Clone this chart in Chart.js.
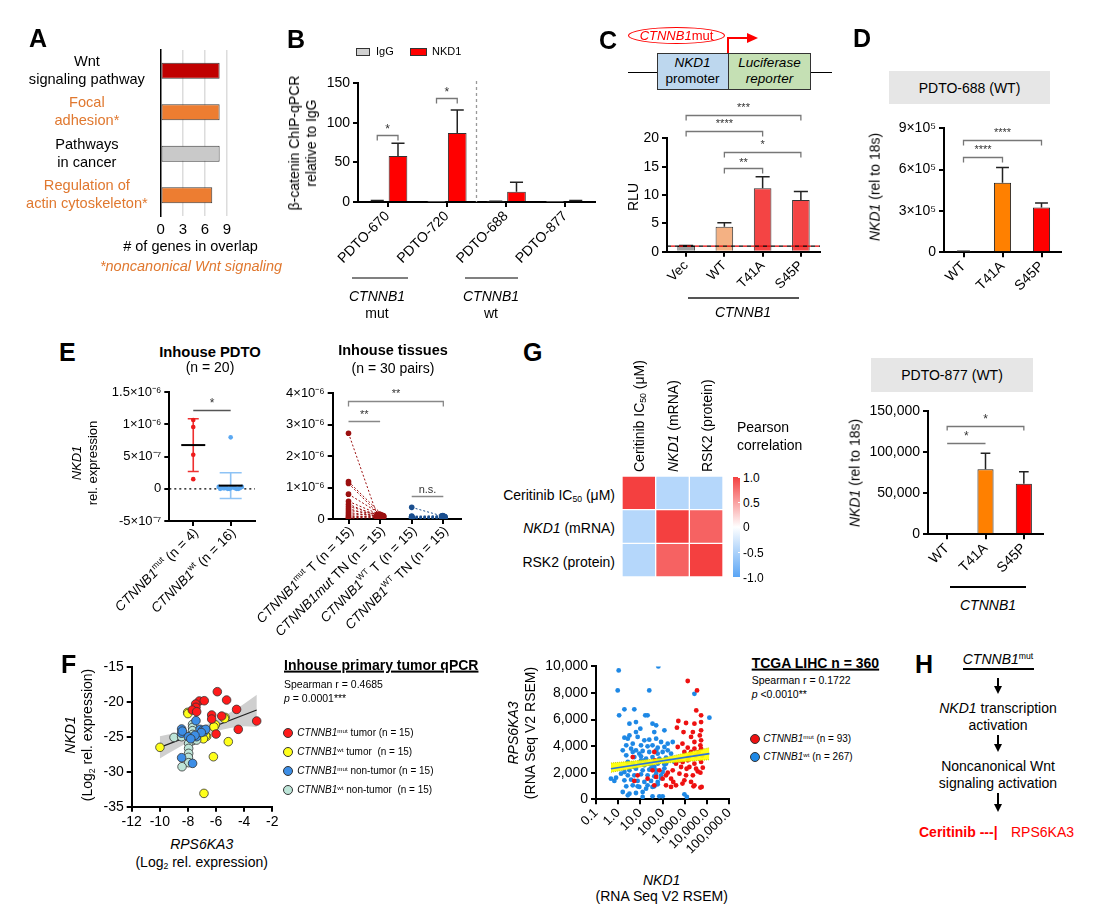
<!DOCTYPE html>
<html>
<head>
<meta charset="utf-8">
<script src="https://cdn.jsdelivr.net/npm/chart.js@4.4.1/dist/chart.umd.min.js"></script>
<style>
html, body { margin: 0; background: #fff; }
#fig { position: relative; width: 1113px; height: 914px; overflow: hidden; font-family: "Liberation Sans", Arial, sans-serif; color: #000; }
.t { position: absolute; white-space: nowrap; line-height: 1.2; text-align: center; }
.t sup { font-size: 0.62em; vertical-align: 0.55em; line-height: 0; }
.t sub { font-size: 0.62em; vertical-align: -0.3em; line-height: 0; }
</style>
</head>
<body>
<div id="fig"></div>
<script>
// ---- A: pathways
const aPathways = [['Wnt', 'signaling pathway'], ['Focal', 'adhesion*'], ['Pathways', 'in cancer'], ['Regulation of', 'actin cytoskeleton*']];
const aGenes = [8, 8, 8, 7];
const aTicks = [0, 3, 6, 9];

// ---- B: ChIP-qPCR
const bSamples = ['PDTO-670', 'PDTO-720', 'PDTO-688', 'PDTO-877'];
const bIgG = [1.2, 0.3, 0.6, 0.2];
const bIgGSd = [0.6, 0, 0.3, 0];
const bNKD1 = [58, 87, 13, 1.2];
const bNKD1Sd = [16, 29, 12, 0.6];
const bTicks = [0, 50, 100, 150];

// ---- C: luciferase
const cGroups = ['Vec', 'WT', 'T41A', 'S45P'];
const cRLU = [1.0, 4.4, 11.2, 9.1];
const cSd = [0.1, 0.7, 2.0, 1.5];
const cTicks = [0, 5, 10, 15, 20];
const cBase = 1;

// ---- D: PDTO-688 and PDTO-877
const dGroups = ['WT', 'T41A', 'S45P'];
const d688 = [5000, 505000, 325000];
const d688Sd = [3000, 110000, 32000];
const d688Ticks = [0, 300000, 600000, 900000];
const d688TickLabels = ['0', '3×10⁵', '6×10⁵', '9×10⁵'];
const d877 = [0, 79000, 61500];
const d877Sd = [0, 19500, 14500];
const d877Ticks = [0, 50000, 100000, 150000];

// ---- E (values in units of 1e-6)
const e1Mut = [1.07, 0.96, 0.53, 0.15];
const e1MutX = [0, 0, 0, 0];
const e1Wt = [0.80, 0.03, 0.02, 0.01, 0.0, 0.01, 0.02, 0.0, 0.01, 0.03, 0.0, 0.01, 0.02, 0.0, 0.01, 0.0];
const e1WtX = [1.0, 0.68, 0.76, 0.84, 0.92, 1.0, 1.08, 1.16, 1.24, 1.3, 0.72, 0.8, 0.88, 0.96, 1.12, 1.2];
const e1Mean = [0.68, 0.05];
const e1Sd = [0.41, 0.20];
const e1Ticks = [-0.5, 0, 0.5, 1, 1.5];
const e1TickLabels = ['-5×10⁻⁷', '0', '5×10⁻⁷', '1×10⁻⁶', '1.5×10⁻⁶'];
const e1Groups = ['_CTNNB1_^mut^ (n = 4)', '_CTNNB1_^wt^ (n = 16)'];

const e2MutT = [2.73, 1.19, 1.13, 0.79, 0.56, 0.47, 0.40, 0.33, 0.27, 0.21, 0.16, 0.11, 0.07, 0.04, 0.02];
const e2MutTN = [0.14, 0.12, 0.16, 0.10, 0.13, 0.09, 0.11, 0.08, 0.15, 0.06, 0.12, 0.05, 0.10, 0.07, 0.04];
const e2WtT = [0.37, 0.09, 0.08, 0.07, 0.06, 0.06, 0.05, 0.05, 0.04, 0.04, 0.03, 0.03, 0.02, 0.02, 0.01];
const e2WtTN = [0.10, 0.08, 0.11, 0.07, 0.09, 0.06, 0.08, 0.05, 0.07, 0.04, 0.06, 0.03, 0.05, 0.02, 0.04];
const e2Jitter = [-0.1, 0.08, -0.04, 0.11, 0.02, -0.08, 0.06, -0.12, 0.0, 0.1, -0.06, 0.04, -0.02, 0.12, -0.1];
const e2Ticks = [0, 1, 2, 3, 4];
const e2TickLabels = ['0', '1×10⁻⁶', '2×10⁻⁶', '3×10⁻⁶', '4×10⁻⁶'];
const e2Groups = ['_CTNNB1_^mut^ T (n = 15)', '_CTNNB1mut_ TN (n = 15)', '_CTNNB1_^WT^ T (n = 15)', '_CTNNB1_^WT^ TN (n = 15)'];

// ---- G: Pearson correlation
const gLabels = ['Ceritinib IC50 (μM)', 'NKD1 (mRNA)', 'RSK2 (protein)'];
const gCorr = [[1, -0.45, -0.45], [-0.45, 1, 0.82], [-0.45, 0.82, 1]];

// ---- F: inhouse qPCR (log2 RPS6KA3, log2 NKD1)
const fMutTumor = [[-5.91, -18.57], [-5.25, -19.76], [-7.19, -19.9], [-6.84, -19.86], [-7.45, -20.33], [-7.43, -20.8], [-7.69, -21.19], [-7.38, -21.43], [-6.31, -21.9], [-6.31, -22.48], [-5.6, -22.05], [-4.54, -21.1], [-3.11, -22.76], [-4.42, -23.95], [-6.0, -24.62]];
const fWtTumor = [[-8.02, -21.52], [-9.99, -26.52], [-5.36, -22.24], [-6.12, -23.48], [-6.86, -25.14], [-6.67, -24.95], [-5.13, -25.71], [-6.19, -27.86], [-6.86, -33.1], [-6.05, -23.3], [-6.75, -24.85], [-5.4, -22.4], [-8.0, -21.7], [-6.9, -25.3], [-6.15, -23.6]];
const fMutNormal = [[-7.43, -22.71], [-8.45, -23.9], [-8.45, -24.5], [-7.97, -25.0], [-7.14, -23.95], [-6.95, -24.1], [-6.86, -24.3], [-6.74, -23.95], [-8.45, -28.0], [-7.67, -28.81], [-7.38, -25.0], [-8.4, -24.2], [-7.05, -24.4], [-7.5, -24.8], [-7.8, -25.3]];
const fWtNormal = [[-7.67, -23.24], [-7.67, -23.67], [-7.67, -24.14], [-7.67, -24.67], [-7.67, -25.14], [-7.67, -25.57], [-7.95, -25.95], [-7.95, -26.67], [-7.95, -27.38], [-7.97, -27.95], [-7.95, -28.71], [-8.42, -29.29], [-8.99, -25.1], [-8.45, -25.0], [-7.38, -25.48]];
const fFitX = [-9.99, -3.11];
const fFitY = [-26.52, -21.19];
const fBandX = [-10, -9, -8, -7, -6, -5, -4, -3.1];
const fBandHi = [-24.93, -24.55, -24.13, -23.5, -22.63, -21.56, -20.28, -19.0];
const fBandLo = [-28.13, -26.95, -25.83, -24.9, -24.23, -23.76, -23.5, -23.6];

// ---- F: TCGA LIHC (NKD1 RSEM, RPS6KA3 RSEM)
const tcgaWt = [[1.05, 9700], [64, 10000], [0.95, 8190], [25, 8190], [2690, 7940], [12700, 6140], [1.1, 6315], [1.9, 6770], [5.3, 6770], [16.5, 6315], [21, 6315], [3.2, 5690], [6.3, 5810], [35, 5690], [51, 5565], [120, 5190], [9.9, 5315], [3.2, 4810], [6.3, 5060], [42, 5060], [1.9, 4640], [2.7, 4560], [7.5, 4690], [15, 4440], [25, 4490], [51, 4560], [85, 4310], [169, 4185], [284, 4310], [2.3, 4060], [4.5, 4185], [10.6, 4060], [21, 3985], [35, 4060], [60, 3885], [120, 3935], [1.6, 3685], [3.8, 3810], [6.3, 3685], [12.6, 3635], [25, 3560], [51, 3685], [100, 3560], [2.3, 3310], [5.3, 3180], [10.6, 3230], [18, 3060], [35, 3180], [71, 3060], [142, 3130], [2.7, 2810], [4.5, 2680], [8.9, 2730], [15, 2555], [30, 2630], [60, 2680], [120, 2630], [6.3, 2305], [12.6, 2180], [25, 2230], [51, 2180], [100, 2055], [1.34, 1930], [2.7, 1805], [5.3, 1805], [10.6, 1880], [21, 1805], [42, 1730], [85, 1805], [0.47, 1555], [0.8, 1630], [0.67, 1380], [1.9, 1430], [3.8, 1480], [7.5, 1380], [15, 1305], [30, 1380], [60, 1305], [2.3, 980], [4.5, 1055], [8.9, 930], [18, 800], [35, 930], [1.6, 550], [3.2, 425], [6.3, 475], [12.6, 550], [2.7, 300], [12.6, 175], [35, 225], [71, 225], [100, 225], [953, 375], [1230, 175], [338, 2810], [10.6, 2930], [18, 2680], [30, 2330], [51, 1930], [85, 1580], [21, 1055], [42, 980], [60, 1130], [7.5, 980], [120, 2330], [142, 2680], [85, 2930], [60, 3430], [42, 2430], [25, 2680], [15, 2930], [5.3, 2430], [3.2, 2180], [1.9, 2055], [8.9, 3430], [4.5, 3560], [169, 3685], [239, 3430], [200, 2930]];
const tcgaMut = [[1346, 8900], [3530, 8190], [3260, 6690], [5370, 6315], [5370, 5810], [508, 5890], [1130, 5740], [440, 5390], [2690, 5690], [5370, 5190], [2290, 5060], [870, 5060], [4700, 4810], [1900, 4690], [5370, 4440], [2690, 4310], [780, 4185], [5000, 4060], [477, 3935], [1346, 3885], [2690, 3810], [5370, 3810], [1900, 3560], [950, 3560], [42, 3560], [4.5, 3180], [45, 2930], [570, 2930], [1346, 2930], [2690, 2680], [5370, 2810], [400, 2680], [675, 2430], [1600, 2430], [3200, 2305], [6400, 2380], [35, 2180], [71, 2180], [142, 1805], [284, 2180], [570, 1930], [1130, 1805], [2290, 1805], [7.5, 1805], [21, 1555], [51, 1680], [100, 1555], [239, 1555], [950, 1430], [1900, 1305], [5.3, 1380], [42, 1055], [142, 1055], [400, 1055], [780, 1180], [2690, 1055], [239, 930], [2450, 980], [5700, 930], [5000, 880], [3000, 3300], [4200, 3550], [6000, 3300], [1500, 3200], [800, 2800], [3800, 2100], [5000, 2000], [170, 2000], [300, 1300], [1200, 2300]];
const tcgaFitX = [0.47, 12700];
const tcgaFitY = [2305, 3435];
const tcgaBandX = [0.47, 85, 12700];
const tcgaBandHi = [2730, 3070, 3885];
const tcgaBandLo = [2030, 2700, 2980];
const tcgaXTicks = [0.1, 1, 10, 100, 1000, 10000, 100000];
const tcgaYTicks = [0, 2000, 4000, 6000, 8000, 10000];

// ---------------------------------------------------------------
const FF = '"Liberation Sans", Arial, sans-serif';
const ORANGE = '#E0782F';
const fig = document.getElementById('fig');
Chart.defaults.font.family = FF;
Chart.defaults.color = '#000';
Chart.defaults.animation = false;
Chart.defaults.events = [];
Chart.defaults.plugins.legend.display = false;
Chart.defaults.plugins.tooltip.enabled = false;
Chart.defaults.maintainAspectRatio = false;

const pts = a => a.map(([x, y]) => ({ x, y }));
const zip = (xs, ys) => xs.map((x, i) => ({ x, y: ys[i] }));
const fmt = v => v.toLocaleString('en-US');

function place(box, area, cfg) {
    const [L, T, W, H] = box;
    const wrap = document.createElement('div');
    wrap.style.cssText = `position:absolute;left:${L}px;top:${T}px;width:${W}px;height:${H}px`;
    const cv = document.createElement('canvas');
    wrap.appendChild(cv);
    fig.appendChild(wrap);
    cfg.options.layout = { padding: { left: 0, top: area.t - T, right: L + W - area.r, bottom: 0 } };
    cfg.options.scales.x.afterFit = s => { s.height = T + H - area.b; };
    cfg.options.scales.y.afterFit = s => { s.width = area.l - L; };
    return new Chart(cv, cfg);
}

function yAxis(min, max, ticks, cb, size = 14) {
    return {
        min, max,
        afterBuildTicks: s => { s.ticks = ticks.map(v => ({ value: v })); },
        border: { color: '#000', width: 2 },
        grid: { drawOnChartArea: false, color: '#000', lineWidth: 2, tickLength: 5 },
        ticks: { font: { size }, padding: 3, callback: cb }
    };
}

function xCat(size) {
    return {
        border: { color: '#000', width: 2 },
        grid: { drawOnChartArea: false, offset: false, color: '#000', lineWidth: 2, tickLength: 5 },
        ticks: { font: { size }, minRotation: 45, maxRotation: 45, autoSkip: false, padding: 1 }
    };
}

function xLin(min, max, ticks) {
    return {
        type: 'linear', min, max,
        afterBuildTicks: s => { s.ticks = ticks.map(v => ({ value: v })); },
        border: { color: '#000', width: 2 },
        grid: { drawOnChartArea: false, color: '#000', lineWidth: 2, tickLength: 5 },
        ticks: { callback: () => '' }
    };
}

function errPlugin(cap, color = '#222') {
    return {
        id: 'err',
        afterDatasetsDraw(chart) {
            const ctx = chart.ctx, ys = chart.scales.y;
            chart.data.datasets.forEach((ds, di) => {
                if (!ds.sd) return;
                chart.getDatasetMeta(di).data.forEach((el, i) => {
                    const sd = ds.sd[i];
                    if (!sd) return;
                    const top = ys.getPixelForValue(ds.data[i] + sd);
                    const w = el.width * cap / 2;
                    ctx.save();
                    ctx.strokeStyle = color;
                    ctx.lineWidth = 1.5;
                    ctx.beginPath();
                    ctx.moveTo(el.x, el.y);
                    ctx.lineTo(el.x, top);
                    ctx.moveTo(el.x - w, top);
                    ctx.lineTo(el.x + w, top);
                    ctx.stroke();
                    ctx.restore();
                });
            });
        }
    };
}

function bracketPlugin(items, color = '#777') {
    return {
        id: 'brackets',
        afterDatasetsDraw(chart) {
            const ctx = chart.ctx, xs = chart.scales.x, ys = chart.scales.y;
            ctx.save();
            ctx.strokeStyle = color;
            ctx.lineWidth = 1.3;
            ctx.fillStyle = '#333';
            ctx.textAlign = 'center';
            ctx.textBaseline = 'middle';
            items.forEach(b => {
                let x1, x2;
                if (b.bar !== undefined) {
                    x1 = chart.getDatasetMeta(0).data[b.bar].x;
                    x2 = chart.getDatasetMeta(1).data[b.bar].x;
                } else {
                    x1 = xs.getPixelForValue(b.x1);
                    x2 = xs.getPixelForValue(b.x2);
                }
                const y = Math.round(ys.getPixelForValue(b.y)) + 0.5;
                const drop = b.drop || 0;
                ctx.beginPath();
                ctx.moveTo(x1, y + drop);
                ctx.lineTo(x1, y);
                ctx.lineTo(x2, y);
                ctx.lineTo(x2, y + drop);
                ctx.stroke();
                ctx.font = `${b.size || 12}px ${FF}`;
                ctx.fillText(b.label, (x1 + x2) / 2, y - (b.gap || 6));
            });
            ctx.restore();
        }
    };
}

function drawRich(ctx, str, x, y, size, angle) {
    const segs = str.split(/(_[^_]+_|\^[^^]+\^)/).filter(s => s).map(p => {
        const it = p[0] === '_', sup = p[0] === '^';
        const t = (it || sup) ? p.slice(1, -1) : p;
        const font = `${it ? 'italic ' : ''}${sup ? size * 0.62 : size}px ${FF}`;
        ctx.font = font;
        return { t, font, w: ctx.measureText(t).width, dy: sup ? -size * 0.32 : 0 };
    });
    const total = segs.reduce((a, s) => a + s.w, 0);
    ctx.save();
    ctx.translate(x, y);
    ctx.rotate(angle);
    ctx.textBaseline = 'middle';
    ctx.textAlign = 'left';
    ctx.fillStyle = '#000';
    let cx = -total;
    segs.forEach(s => { ctx.font = s.font; ctx.fillText(s.t, cx, s.dy); cx += s.w; });
    ctx.restore();
}

function richXPlugin(labels, size) {
    return {
        id: 'richx',
        afterDraw(chart) {
            const xs = chart.scales.x;
            xs.ticks.forEach((t, i) => {
                drawRich(chart.ctx, labels[i], xs.getPixelForValue(t.value) + 3, xs.top + 10, size, -Math.PI / 4);
            });
        }
    };
}

// ---------------- A
const aFill = ['#C00000', '#ED7D31', '#C9C9C9', '#ED7D31'];
const aLabelColor = ['#000', ORANGE, '#000', ORANGE];
place([20, 5, 225, 235], { l: 160.7, t: 50, r: 227, b: 216 }, {
    type: 'bar',
    data: {
        labels: aPathways,
        datasets: [{ data: aGenes, backgroundColor: aFill, borderColor: '#3a3a3a', borderWidth: 1, borderSkipped: false, barPercentage: 0.39, categoryPercentage: 1 }]
    },
    options: {
        indexAxis: 'y',
        scales: {
            x: {
                min: 0, max: 9,
                afterBuildTicks: s => { s.ticks = aTicks.map(v => ({ value: v })); },
                border: { display: false },
                grid: { color: c => (c.tick && c.tick.value === 0) ? 'rgba(0,0,0,0)' : '#dcdcdc', lineWidth: 1.5, drawTicks: false },
                ticks: { font: { size: 15 }, padding: 5 }
            },
            y: {
                border: { color: '#000', width: 1.5 },
                grid: { display: false },
                ticks: { font: { size: 14.6, lineHeight: 1.23 }, color: c => aLabelColor[c.index], crossAlign: 'center', padding: 5 }
            }
        }
    }
});

// ---------------- B
const sepPlugin = {
    id: 'sep',
    afterDatasetsDraw(chart) {
        const xs = chart.scales.x, ctx = chart.ctx;
        const x = (xs.getPixelForValue(1) + xs.getPixelForValue(2)) / 2;
        ctx.save();
        ctx.strokeStyle = '#999';
        ctx.lineWidth = 1.3;
        ctx.setLineDash([3, 3]);
        ctx.beginPath();
        ctx.moveTo(x, chart.chartArea.top - 2);
        ctx.lineTo(x, chart.chartArea.bottom);
        ctx.stroke();
        ctx.restore();
    }
};
place([285, 60, 330, 240], { l: 358, t: 83, r: 595, b: 202 }, {
    type: 'bar',
    data: {
        labels: bSamples,
        datasets: [
            { data: bIgG, sd: bIgGSd, backgroundColor: '#D0D0D0', borderColor: '#333', borderWidth: 1, barPercentage: 0.9, categoryPercentage: 0.7 },
            { data: bNKD1, sd: bNKD1Sd, backgroundColor: '#FF0000', borderColor: '#333', borderWidth: 1, barPercentage: 0.9, categoryPercentage: 0.7 }
        ]
    },
    options: { scales: { x: xCat(14), y: yAxis(0, 150, bTicks, v => v) } },
    plugins: [errPlugin(0.7), sepPlugin, bracketPlugin([
        { bar: 0, y: 84.5, drop: 5, label: '*', gap: 6 },
        { bar: 1, y: 131, drop: 5, label: '*', gap: 6 }
    ])]
});

// ---------------- C
const baseLine = {
    id: 'base',
    afterDatasetsDraw(chart) {
        const ctx = chart.ctx, a = chart.chartArea;
        const y = chart.scales.y.getPixelForValue(cBase);
        ctx.save();
        ctx.lineWidth = 1.3;
        ctx.setLineDash([4, 4]);
        ctx.strokeStyle = '#000';
        ctx.beginPath(); ctx.moveTo(a.left, y); ctx.lineTo(a.right, y); ctx.stroke();
        ctx.lineDashOffset = 4;
        ctx.strokeStyle = '#E00000';
        ctx.beginPath(); ctx.moveTo(a.left, y); ctx.lineTo(a.right, y); ctx.stroke();
        ctx.restore();
    }
};
place([615, 95, 225, 215], { l: 667, t: 138.3, r: 820, b: 251.7 }, {
    type: 'bar',
    data: {
        labels: cGroups,
        datasets: [{ data: cRLU, sd: cSd, backgroundColor: ['#A0A0A0', '#F4B183', '#F44444', '#F44444'], borderColor: '#333', borderWidth: 1, barPercentage: 0.46, categoryPercentage: 1 }]
    },
    options: { scales: { x: xCat(13.5), y: yAxis(0, 20, cTicks, v => v) } },
    plugins: [errPlugin(0.8), baseLine, bracketPlugin([
        { x1: 0, x2: 3, y: 24.1, drop: 5, label: '***', size: 11, gap: 8 },
        { x1: 0, x2: 2, y: 21.2, drop: 5, label: '****', size: 11, gap: 8 },
        { x1: 1, x2: 3, y: 17.5, drop: 5, label: '*', size: 11, gap: 8 },
        { x1: 1, x2: 2, y: 14.7, drop: 5, label: '**', size: 11, gap: 6 }
    ])]
});

// ---------------- D (PDTO-688)
place([880, 110, 200, 195], { l: 944, t: 128.3, r: 1061, b: 252.3 }, {
    type: 'bar',
    data: {
        labels: dGroups,
        datasets: [{ data: d688, sd: d688Sd, backgroundColor: ['#888', '#FF8000', '#FF0000'], borderColor: '#222', borderWidth: 1, barPercentage: 0.44, categoryPercentage: 1 }]
    },
    options: { scales: { x: xCat(14), y: yAxis(0, 900000, d688Ticks, (v, i) => d688TickLabels[i]) } },
    plugins: [errPlugin(0.75), bracketPlugin([
        { x1: 0, x2: 2, y: 815000, drop: 5, label: '****', size: 11, gap: 8 },
        { x1: 0, x2: 1, y: 694000, drop: 5, label: '****', size: 11, gap: 8 }
    ])]
});

// ---------------- D (PDTO-877)
place([850, 395, 215, 190], { l: 928, t: 411, r: 1043, b: 534.3 }, {
    type: 'bar',
    data: {
        labels: dGroups,
        datasets: [{ data: d877, sd: d877Sd, backgroundColor: ['#888', '#FF8000', '#FF0000'], borderColor: '#222', borderWidth: 1, barPercentage: 0.42, categoryPercentage: 1 }]
    },
    options: { scales: { x: xCat(14), y: yAxis(0, 150000, d877Ticks, v => fmt(v)) } },
    plugins: [errPlugin(0.6), bracketPlugin([
        { x1: 0, x2: 2, y: 131750, drop: 4, label: '*', size: 12, gap: 7 },
        { x1: 0, x2: 1, y: 110700, drop: 0, label: '*', size: 12, gap: 7 }
    ])]
});

// ---------------- E1
const e1Extras = {
    id: 'meansd',
    beforeDatasetsDraw(chart) {
        const ctx = chart.ctx, xs = chart.scales.x, ys = chart.scales.y, a = chart.chartArea;
        ctx.save();
        ctx.strokeStyle = '#000';
        ctx.lineWidth = 1.2;
        ctx.setLineDash([2, 3]);
        const y0 = ys.getPixelForValue(0);
        ctx.beginPath(); ctx.moveTo(a.left, y0); ctx.lineTo(a.right, y0); ctx.stroke();
        ctx.setLineDash([]);
        const errCol = ['#EE3030', '#8EC3F5'], capW = [11, 22];
        e1Mean.forEach((m, g) => {
            const x = xs.getPixelForValue(g);
            const yt = ys.getPixelForValue(m + e1Sd[g]), yb = ys.getPixelForValue(m - e1Sd[g]);
            ctx.strokeStyle = errCol[g];
            ctx.lineWidth = 1.6;
            ctx.beginPath();
            ctx.moveTo(x, yt); ctx.lineTo(x, yb);
            ctx.moveTo(x - capW[g] / 2, yt); ctx.lineTo(x + capW[g] / 2, yt);
            ctx.moveTo(x - capW[g] / 2, yb); ctx.lineTo(x + capW[g] / 2, yb);
            ctx.stroke();
        });
        ctx.restore();
    },
    afterDatasetsDraw(chart) {
        const ctx = chart.ctx, xs = chart.scales.x, ys = chart.scales.y;
        ctx.save();
        ctx.strokeStyle = '#000';
        ctx.lineWidth = 2;
        e1Mean.forEach((m, g) => {
            const x = xs.getPixelForValue(g), y = ys.getPixelForValue(m);
            ctx.beginPath(); ctx.moveTo(x - 12, y); ctx.lineTo(x + 12, y); ctx.stroke();
        });
        ctx.restore();
    }
};
place([60, 375, 205, 255], { l: 169.3, t: 392.3, r: 255, b: 521 }, {
    type: 'scatter',
    data: {
        datasets: [
            { data: zip(e1MutX, e1Mut), backgroundColor: '#EE1C1C', borderWidth: 0, pointRadius: 2.3 },
            { data: zip(e1WtX, e1Wt), backgroundColor: '#5AA8F2', borderWidth: 0, pointRadius: 2.3 }
        ]
    },
    options: { scales: { x: xLin(-0.64, 1.65, [0, 1]), y: yAxis(-0.5, 1.5, e1Ticks, (v, i) => e1TickLabels[i], 13) } },
    plugins: [e1Extras, richXPlugin(e1Groups, 13.5), bracketPlugin([{ x1: 0, x2: 1, y: 1.225, drop: 0, label: '*', size: 12, gap: 7 }], '#555')]
});

// ---------------- E2
const pairLines = {
    id: 'pairs',
    beforeDatasetsDraw(chart) {
        const ctx = chart.ctx;
        ctx.save();
        ctx.lineWidth = 1;
        ctx.setLineDash([2, 2]);
        [[0, 1, '#9B1010'], [2, 3, '#1B4F8F']].forEach(([a, b, col]) => {
            const ma = chart.getDatasetMeta(a).data, mb = chart.getDatasetMeta(b).data;
            ctx.strokeStyle = col;
            ma.forEach((p, i) => {
                ctx.beginPath(); ctx.moveTo(p.x, p.y); ctx.lineTo(mb[i].x, mb[i].y); ctx.stroke();
            });
        });
        ctx.restore();
    }
};
place([240, 375, 230, 260], { l: 332.7, t: 393.3, r: 460.7, b: 519 }, {
    type: 'scatter',
    data: {
        datasets: [
            { data: e2MutT.map(y => ({ x: 0, y })), backgroundColor: '#9B1010', borderWidth: 0, pointRadius: 2.8 },
            { data: e2MutTN.map((y, i) => ({ x: 1 + e2Jitter[i], y })), backgroundColor: '#9B1010', borderWidth: 0, pointRadius: 2.8 },
            { data: e2WtT.map(y => ({ x: 2, y })), backgroundColor: '#1B4F8F', borderWidth: 0, pointRadius: 2.8 },
            { data: e2WtTN.map((y, i) => ({ x: 3 + e2Jitter[i] * 0.5, y })), backgroundColor: '#1B4F8F', borderWidth: 0, pointRadius: 2.8 }
        ]
    },
    options: { scales: { x: xLin(-0.5, 3.55, [0, 1, 2, 3]), y: yAxis(0, 4, e2Ticks, (v, i) => e2TickLabels[i], 13) } },
    plugins: [pairLines, richXPlugin(e2Groups, 13.5), bracketPlugin([
        { x1: 0, x2: 3, y: 3.755, drop: 5, label: '**', size: 11, gap: 8 },
        { x1: 0, x2: 1, y: 3.128, drop: 0, label: '**', size: 11, gap: 7 },
        { x1: 2, x2: 3, y: 0.741, drop: 0, label: 'n.s.', size: 11, gap: 7 }
    ], '#888')]
});

// ---------------- G heatmap
function corrColor(v) {
    const a = Math.abs(v), c = v >= 0 ? [244, 64, 64] : [90, 165, 245];
    const m = i => Math.round(255 + (c[i] - 255) * a);
    return `rgb(${m(0)},${m(1)},${m(2)})`;
}
(() => {
    const wrap = document.createElement('div');
    wrap.style.cssText = 'position:absolute;left:622px;top:476px;width:101px;height:101px';
    const cv = document.createElement('canvas');
    wrap.appendChild(cv);
    fig.appendChild(wrap);
    new Chart(cv, {
        type: 'bar',
        data: {
            labels: gLabels,
            datasets: gCorr.map((row, r) => ({
                data: row.map(() => [r, r + 1]),
                backgroundColor: row.map(corrColor),
                borderColor: '#fff', borderWidth: 1, borderSkipped: false,
                grouped: false, barPercentage: 1, categoryPercentage: 1
            }))
        },
        options: { layout: { padding: 0 }, scales: { x: { display: false }, y: { display: false, min: 0, max: 3, reverse: true } } }
    });
})();

// ---------------- F inhouse (lower order is drawn on top)
const dot = (d, col, order) => ({ data: pts(d), backgroundColor: col, borderColor: '#333', borderWidth: 0.8, pointRadius: 4.3, order });
place([60, 655, 230, 180], { l: 131.7, t: 666.7, r: 272.3, b: 806.7 }, {
    type: 'scatter',
    data: {
        datasets: [
            { type: 'line', data: zip(fBandX, fBandHi), fill: '+1', backgroundColor: 'rgba(175,175,175,0.6)', borderWidth: 0, pointRadius: 0, cubicInterpolationMode: 'monotone', order: 9 },
            { type: 'line', data: zip(fBandX, fBandLo), fill: false, borderWidth: 0, pointRadius: 0, cubicInterpolationMode: 'monotone', order: 8 },
            { type: 'line', data: zip(fFitX, fFitY), fill: false, borderColor: '#222', borderWidth: 1.2, pointRadius: 0, order: 7 },
            dot(fWtTumor, '#FFFF1A', 4),
            dot(fWtNormal, '#BDE5D8', 3),
            dot(fMutNormal, '#3D8EE6', 2),
            dot(fMutTumor, '#FF1A1A', 1)
        ]
    },
    options: {
        scales: {
            x: {
                type: 'linear', min: -12, max: -2,
                afterBuildTicks: s => { s.ticks = [-12, -10, -8, -6, -4, -2].map(v => ({ value: v })); },
                border: { color: '#000', width: 2 },
                grid: { drawOnChartArea: false, color: '#000', lineWidth: 2, tickLength: 5 },
                ticks: { font: { size: 14 }, padding: 2 }
            },
            y: yAxis(-35, -15, [-35, -30, -25, -20, -15], v => v)
        }
    }
});

// ---------------- F TCGA
place([540, 655, 210, 215], { l: 596, t: 666, r: 729.3, b: 799.3 }, {
    type: 'scatter',
    data: {
        datasets: [
            { data: pts(tcgaWt), backgroundColor: '#1E88E5', borderWidth: 0, pointRadius: 2.4, order: 5 },
            { data: pts(tcgaMut), backgroundColor: '#EE1111', borderWidth: 0, pointRadius: 2.4, order: 4 },
            { type: 'line', data: zip(tcgaBandX, tcgaBandHi), fill: '+1', backgroundColor: 'rgba(255,255,0,0.92)', borderColor: '#C8C800', borderWidth: 1, borderDash: [1, 1], pointRadius: 0, order: 3 },
            { type: 'line', data: zip(tcgaBandX, tcgaBandLo), fill: false, borderColor: '#C8C800', borderWidth: 1, borderDash: [1, 1], pointRadius: 0, order: 2 },
            { type: 'line', data: zip(tcgaFitX, tcgaFitY), fill: false, borderColor: '#2E75D6', borderWidth: 1.6, pointRadius: 0, order: 1 }
        ]
    },
    options: {
        scales: {
            x: {
                type: 'logarithmic', min: 0.1, max: 100000,
                afterBuildTicks: s => { s.ticks = tcgaXTicks.map(v => ({ value: v })); },
                border: { color: '#000', width: 2 },
                grid: { drawOnChartArea: false, color: '#000', lineWidth: 2, tickLength: 5 },
                ticks: { font: { size: 13 }, minRotation: 45, maxRotation: 45, autoSkip: false, padding: 1,
                    callback: v => v < 1 ? '0.1' : v.toLocaleString('en-US', { minimumFractionDigits: 1 }) }
            },
            y: yAxis(0, 10000, tcgaYTicks, v => fmt(v))
        }
    }
});

// ---------------- text and diagrams
function txt(x, y, html, o = {}) {
    const d = document.createElement('div');
    d.className = 't';
    d.innerHTML = html;
    d.style.left = x + 'px';
    d.style.top = y + 'px';
    d.style.fontSize = (o.s || 14) + 'px';
    if (o.b) d.style.fontWeight = 'bold';
    if (o.i) d.style.fontStyle = 'italic';
    if (o.c) d.style.color = o.c;
    if (o.lh) d.style.lineHeight = o.lh + 'px';
    if (o.u) { d.style.textDecoration = 'underline'; d.style.textDecorationThickness = '1.5px'; }
    if (o.rb) {
        d.style.transformOrigin = '0 50%';
        d.style.transform = 'translate(0,-50%) rotate(-90deg)';
    } else {
        const tx = o.a === 'l' ? '0' : o.a === 'r' ? '-100%' : '-50%';
        d.style.transform = `translate(${tx},-50%)` + (o.r ? ` rotate(${o.r}deg)` : '');
    }
    fig.appendChild(d);
}
function rect(x, y, w, h, css) {
    const d = document.createElement('div');
    d.style.cssText = `position:absolute;box-sizing:border-box;left:${x}px;top:${y}px;width:${w}px;height:${h}px;` + css;
    fig.appendChild(d);
}
function circle(x, y, col) {
    rect(x - 5, y - 5, 10, 10, `border-radius:50%;background:${col};border:1px solid #333`);
}
function arrowDown(x, y1, y2) {
    rect(x - 1, y1, 2, y2 - y1 - 6, 'background:#000');
    rect(x - 4.5, y2 - 8, 9, 8, 'width:0;height:0;border-left:4.5px solid transparent;border-right:4.5px solid transparent;border-top:8px solid #000');
}

// panel letters
[['A', 29, 38], ['B', 287, 39], ['C', 599, 40], ['D', 853, 38], ['E', 59, 352], ['G', 523, 352], ['F', 61, 664], ['H', 915, 664]]
    .forEach(([l, x, y]) => txt(x, y, l, { s: 25, b: 1, a: 'l' }));

// A
txt(190.5, 247, '# of genes in overlap', { s: 14.5 });
txt(191, 267, '*noncanonical Wnt signaling', { s: 14.5, i: 1, c: ORANGE });

// B
rect(356, 48, 14, 8, 'background:#D0D0D0;border:1px solid #333');
txt(376, 52, 'IgG', { s: 11, a: 'l' });
rect(410, 48, 17, 8, 'background:#FF0000;border:1px solid #333');
txt(432, 52, 'NKD1', { s: 11, a: 'l' });
txt(303, 143, 'β-catenin ChIP-qPCR<br>relative to IgG', { r: -90, lh: 17 });
rect(352, 277, 56, 2, 'background:#808080');
rect(465, 277, 53, 2, 'background:#808080');
txt(377, 296, '<i>CTNNB1</i>');
txt(377, 313, 'mut');
txt(491, 296, '<i>CTNNB1</i>');
txt(491, 313, 'wt');

// C diagram
rect(628, 27, 97, 17, 'border:1.5px solid #FF0000;border-radius:50%');
txt(676.5, 35.5, '<i>CTNNB1</i>mut', { s: 13, c: '#FF0000' });
rect(727, 38, 2, 15, 'background:#FF0000');
rect(727, 37, 21, 2, 'background:#FF0000');
rect(747, 33, 11, 10, 'width:0;height:0;border-top:5px solid transparent;border-bottom:5px solid transparent;border-left:11px solid #FF0000');
rect(628, 71.5, 29, 1, 'background:#000');
rect(811, 71.5, 21, 1, 'background:#000');
rect(657, 53, 72, 37, 'background:#BDD7EE;border:1px solid #333');
rect(728, 53, 83, 37, 'background:#C5E0B4;border:1px solid #333');
txt(692.5, 62.5, '<i>NKD1</i>', { s: 13.5 });
txt(692.5, 79, 'promoter', { s: 13.5 });
txt(769.5, 62.5, '<i>Luciferase</i>', { s: 13.5 });
txt(769.5, 79, '<i>reporter</i>', { s: 13.5 });
txt(633, 197, 'RLU', { r: -90 });
rect(688, 297, 111, 1.5, 'background:#555');
txt(743, 312, '<i>CTNNB1</i>');

// D
rect(889, 71, 161, 33, 'background:#E6E6E6');
txt(969.5, 87.5, 'PDTO-688 (WT)');
txt(875, 187, '<i>NKD1</i> (rel to 18s)', { r: -90 });
rect(871, 358, 162, 34, 'background:#E6E6E6');
txt(952, 375, 'PDTO-877 (WT)');
txt(855, 473, '<i>NKD1</i> (rel to 18s)', { r: -90 });
rect(950, 586, 76, 1.5, 'background:#000');
txt(988, 605, '<i>CTNNB1</i>');

// E
txt(210, 353, 'Inhouse PDTO', { s: 14.8, b: 1 });
txt(210, 367, '(n = 20)');
txt(85, 463, '<i>NKD1</i><br>rel. expression', { s: 13, r: -90, lh: 16 });
txt(393, 351, 'Inhouse tissues', { s: 14.5, b: 1 });
txt(393, 368, '(n = 30 pairs)');

// G labels and colour bar
const gHtml = ['Ceritinib IC<sub>50</sub> (μM)', '<i>NKD1</i> (mRNA)', 'RSK2 (protein)'];
[639.2, 672.8, 706.5].forEach((x, i) => txt(x, 472, gHtml[i], { rb: 1 }));
[494.5, 528, 562].forEach((y, i) => txt(615, y, gHtml[i], { a: 'r' }));
rect(732.7, 476.7, 7.3, 100.6, 'background:linear-gradient(to bottom,#F44040,#ffffff,#5AA5F5)');
[['1.0', 477.7], ['0.5', 502.7], ['0', 527.3], ['-0.5', 552.7], ['-1.0', 578.3]].forEach(([l, y]) => {
    txt(743, y, l, { s: 12, a: 'l' });
    rect(737.5, y - 0.5, 2.5, 1, 'background:#fff');
});
txt(737, 427, 'Pearson', { a: 'l' });
txt(737, 445, 'correlation', { a: 'l' });

// F inhouse texts
txt(79, 735, '<i>NKD1</i><br>(Log<sub>2</sub> rel. expression)', { r: -90, lh: 17 });
txt(201.7, 844, '<i>RPS6KA3</i>');
txt(201.7, 862, '(Log<sub>2</sub> rel. expression)');
txt(284, 665, 'Inhouse primary tumor qPCR', { b: 1, a: 'l', u: 1 });
txt(284, 684, 'Spearman r = 0.4685', { s: 10.5, a: 'l' });
txt(284, 697.5, '<i>p</i> = 0.0001***', { s: 10.5, a: 'l' });
[['#FF1A1A', '<i>CTNNB1</i><sup>mut</sup> tumor (n = 15)'],
 ['#FFFF1A', '<i>CTNNB1</i><sup>wt</sup> tumor &nbsp;(n = 15)'],
 ['#3D8EE6', '<i>CTNNB1</i><sup>mut</sup> non-tumor (n = 15)'],
 ['#BDE5D8', '<i>CTNNB1</i><sup>wt</sup> non-tumor &nbsp;(n = 15)']].forEach(([c, l], i) => {
    const y = 733.3 + i * 18.9;
    circle(287.7, y, c);
    txt(297.3, y, l, { s: 10, a: 'l' });
});

// F TCGA texts
txt(521.7, 733, '<i>RPS6KA3</i><br>(RNA Seq V2 RSEM)', { r: -90, lh: 17 });
txt(661.7, 879.5, '<i>NKD1</i>');
txt(661.7, 896, '(RNA Seq V2 RSEM)');
txt(751.7, 662.7, 'TCGA LIHC n = 360', { b: 1, a: 'l', u: 1 });
txt(751.7, 680, 'Spearman r = 0.1722', { s: 10.5, a: 'l' });
txt(751.7, 693.5, '<i>p</i> &lt;0.0010**', { s: 10.5, a: 'l' });
circle(755, 739.3, '#EE1111');
txt(763.3, 739.3, '<i>CTNNB1</i><sup>mut</sup> (n = 93)', { s: 10, a: 'l' });
circle(755, 756.7, '#1E88E5');
txt(763.3, 756.7, '<i>CTNNB1</i><sup>wt</sup> (n = 267)', { s: 10, a: 'l' });

// H
txt(998, 659, '<i>CTNNB1</i><sup>mut</sup>');
rect(963, 668, 71, 2, 'background:#000');
arrowDown(998, 678, 694);
txt(998, 708, '<i>NKD1</i> transcription');
txt(998, 725, 'activation');
arrowDown(998, 735, 752);
txt(998, 766, 'Noncanonical Wnt');
txt(998, 783, 'signaling activation');
arrowDown(998, 793, 812);
txt(919, 832, '<b>Ceritinib ---|</b>', { a: 'l', c: '#FF0000' });
txt(1011, 832, 'RPS6KA3', { a: 'l', c: '#FF0000' });
</script>
</body>
</html>
